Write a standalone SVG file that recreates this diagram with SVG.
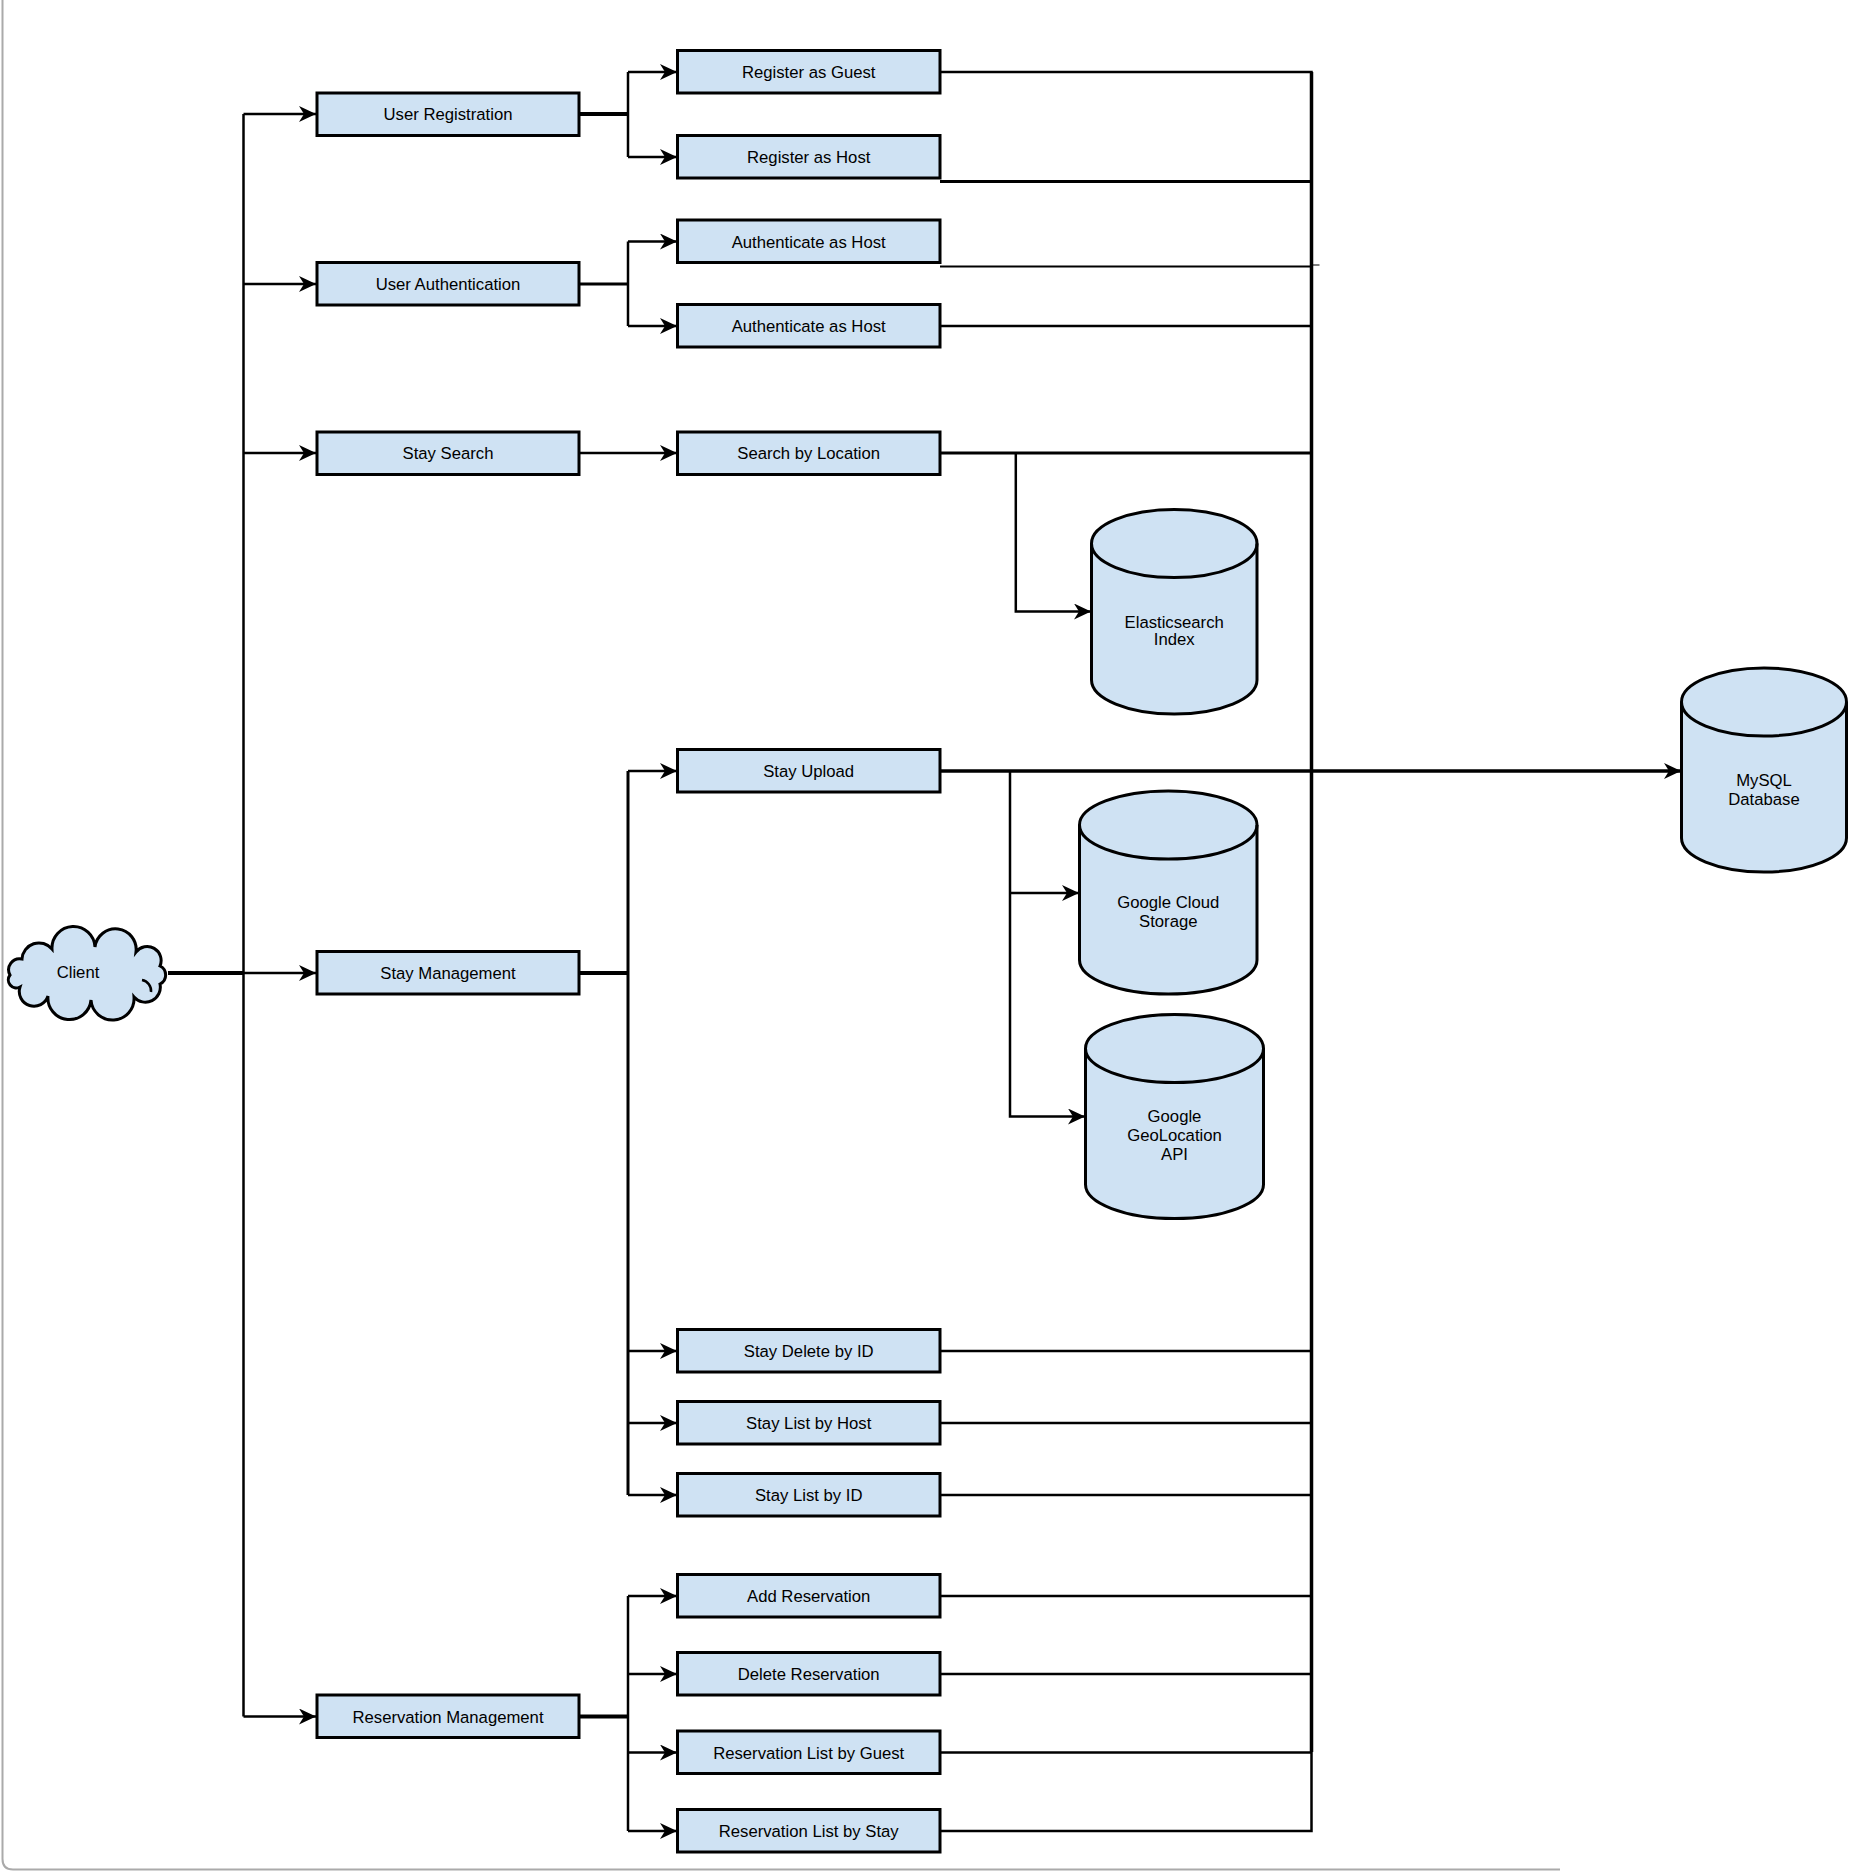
<svg xmlns="http://www.w3.org/2000/svg" width="1868" height="1872" viewBox="0 0 1868 1872">
<defs>
<marker id="arr" markerUnits="userSpaceOnUse" markerWidth="20" markerHeight="18" refX="17" refY="8" orient="auto">
<path d="M0,0 L17,8 L0,16 L5,8 Z" fill="#000"/>
</marker>
<style>
.box{fill:#cfe2f3;stroke:#000;stroke-width:3}
.cyl{fill:#cfe2f3;stroke:#000;stroke-width:3}
.cyltop{fill:none;stroke:#000;stroke-width:3}
.lbl{font-family:"Liberation Sans",Arial,sans-serif;font-size:16.7px;fill:#000;text-anchor:middle}
.ln{fill:none;stroke:#000;stroke-width:2.5}
.thk{fill:none;stroke:#000;stroke-width:4}
.thin{fill:none;stroke:#000;stroke-width:2}
.ar{fill:none;stroke:#000;stroke-width:2.5;marker-end:url(#arr)}
</style>
</defs>
<rect width="1868" height="1872" fill="#fff"/>
<path d="M2.5,0 V1859 Q2.5,1869.5 13,1869.5 H1560" fill="none" stroke="#aaaaaa" stroke-width="2"/>

<g id="connectors">
<path class="thk" d="M168,973 H243.5"/>
<path class="ln" d="M243.5,114 V1716.5"/>
<path class="ar" d="M243.5,114 H316"/>
<path class="ar" d="M243.5,284 H316"/>
<path class="ar" d="M243.5,453 H316"/>
<path class="ar" d="M243.5,973 H316"/>
<path class="ar" d="M243.5,1716.5 H316"/>
<path class="thk" d="M579,114 H628"/>
<path class="ln" d="M628,72 V157"/>
<path class="ar" d="M628,72 H677"/>
<path class="ar" d="M628,157 H677"/>
<path class="ln" style="stroke-width:3" d="M579,284 H628"/>
<path class="ln" d="M628,241.5 V326"/>
<path class="ar" d="M628,241.5 H677"/>
<path class="ar" d="M628,326 H677"/>
<path class="ar" d="M579,453 H677"/>
<path class="thk" d="M579,973 H628"/>
<path class="ln" style="stroke-width:3" d="M628,771 V1495"/>
<path class="ar" d="M628,771 H677"/>
<path class="ar" d="M628,1351 H677"/>
<path class="ar" d="M628,1423 H677"/>
<path class="ar" d="M628,1495 H677"/>
<path class="thk" d="M579,1716.5 H628"/>
<path class="ln" d="M628,1596 V1831"/>
<path class="ar" d="M628,1596 H677"/>
<path class="ar" d="M628,1674 H677"/>
<path class="ar" d="M628,1752.5 H677"/>
<path class="ar" d="M628,1831 H677"/>
<path class="ln" d="M940,72 H1311.5 V1831 H940"/>
<path class="ln" style="stroke-width:3.5" d="M1311.5,72 V1752"/>
<path class="ln" style="stroke-width:3" d="M940,181.5 H1311.5"/>
<path class="thin" d="M940,266.5 H1311.5"/>
<path d="M1311.5,265 H1319.5" stroke="#000" stroke-width="1" fill="none"/>
<path class="ln" d="M940,326 H1311.5"/>
<path class="ln" style="stroke-width:3" d="M940,453 H1311.5"/>
<path class="ln" d="M940,1351 H1311.5"/>
<path class="ln" d="M940,1423 H1311.5"/>
<path class="ln" d="M940,1495 H1311.5"/>
<path class="ln" d="M940,1596 H1311.5"/>
<path class="ln" d="M940,1674 H1311.5"/>
<path class="ln" d="M940,1752.5 H1311.5"/>
<path class="ar" d="M1015.8,453 V611.5 H1091"/>
<path class="ln" style="stroke-width:3.5;marker-end:url(#arr)" d="M940,771 H1681"/>
<path class="ar" d="M1010,771 V1116.5 H1085"/>
<path class="ar" d="M1010,893 H1079"/>
</g>

<g id="client">
<path d="M10,975 A11,11 0 0 1 22,959 A17,17 0 0 1 52,949 A20,20 0 0 1 95,947 A19,19 0 0 1 136,952 A14,14 0 0 1 160,966 A10,10 0 0 1 160,984 A15,15 0 0 1 134,997 A20,20 0 0 1 91,1000 A20,20 0 0 1 48,996 A14,14 0 0 1 20,987 A8,8 0 0 1 10,975 Z" fill="#cfe2f3" stroke="#000" stroke-width="3"/>
<path d="M142,980 A11,11 0 0 1 151,992" fill="none" stroke="#000" stroke-width="2.5"/>
<text class="lbl" x="78" y="978">Client</text>
</g>

<g id="user-registration"><rect class="box" x="317" y="93" width="262" height="42.5"/><text class="lbl" x="448" y="120">User Registration</text></g>
<g id="user-authentication"><rect class="box" x="317" y="262.5" width="262" height="42.5"/><text class="lbl" x="448" y="290">User Authentication</text></g>
<g id="stay-search"><rect class="box" x="317" y="432" width="262" height="42.5"/><text class="lbl" x="448" y="459">Stay Search</text></g>
<g id="stay-management"><rect class="box" x="317" y="951.5" width="262" height="42.5"/><text class="lbl" x="448" y="979">Stay Management</text></g>
<g id="reservation-management"><rect class="box" x="317" y="1695" width="262" height="42.5"/><text class="lbl" x="448" y="1722.5">Reservation Management</text></g>

<g id="register-guest"><rect class="box" x="677.5" y="50.5" width="262.5" height="42.5"/><text class="lbl" x="808.7" y="78">Register as Guest</text></g>
<g id="register-host"><rect class="box" x="677.5" y="135.5" width="262.5" height="42.5"/><text class="lbl" x="808.7" y="163">Register as Host</text></g>
<g id="auth-host-1"><rect class="box" x="677.5" y="220" width="262.5" height="42.5"/><text class="lbl" x="808.7" y="247.5">Authenticate as Host</text></g>
<g id="auth-host-2"><rect class="box" x="677.5" y="304.5" width="262.5" height="42.5"/><text class="lbl" x="808.7" y="332">Authenticate as Host</text></g>
<g id="search-location"><rect class="box" x="677.5" y="432" width="262.5" height="42.5"/><text class="lbl" x="808.7" y="459">Search by Location</text></g>
<g id="stay-upload"><rect class="box" x="677.5" y="749.5" width="262.5" height="42.5"/><text class="lbl" x="808.7" y="777">Stay Upload</text></g>
<g id="stay-delete"><rect class="box" x="677.5" y="1329.5" width="262.5" height="42.5"/><text class="lbl" x="808.7" y="1357">Stay Delete by ID</text></g>
<g id="stay-list-host"><rect class="box" x="677.5" y="1401.5" width="262.5" height="42.5"/><text class="lbl" x="808.7" y="1429">Stay List by Host</text></g>
<g id="stay-list-id"><rect class="box" x="677.5" y="1473.5" width="262.5" height="42.5"/><text class="lbl" x="808.7" y="1501">Stay List by ID</text></g>
<g id="add-reservation"><rect class="box" x="677.5" y="1574.5" width="262.5" height="42.5"/><text class="lbl" x="808.7" y="1602">Add Reservation</text></g>
<g id="delete-reservation"><rect class="box" x="677.5" y="1652.5" width="262.5" height="42.5"/><text class="lbl" x="808.7" y="1680">Delete Reservation</text></g>
<g id="res-list-guest"><rect class="box" x="677.5" y="1731" width="262.5" height="42.5"/><text class="lbl" x="808.7" y="1758.5">Reservation List by Guest</text></g>
<g id="res-list-stay"><rect class="box" x="677.5" y="1809.5" width="262.5" height="42.5"/><text class="lbl" x="808.7" y="1837">Reservation List by Stay</text></g>

<g id="elasticsearch">
<path class="cyl" d="M1091.5,543.5 A82.75,34 0 0 1 1257,543.5 V680 A82.75,34 0 0 1 1091.5,680 Z"/>
<path class="cyltop" d="M1091.5,543.5 A82.75,34 0 0 0 1257,543.5"/>
<text class="lbl" x="1174.2" y="627.5">Elasticsearch</text>
<text class="lbl" x="1174.2" y="645">Index</text>
</g>
<g id="google-cloud-storage">
<path class="cyl" d="M1079.5,825 A88.75,34 0 0 1 1257,825 V960 A88.75,34 0 0 1 1079.5,960 Z"/>
<path class="cyltop" d="M1079.5,825 A88.75,34 0 0 0 1257,825"/>
<text class="lbl" x="1168.3" y="908">Google Cloud</text>
<text class="lbl" x="1168.3" y="927">Storage</text>
</g>
<g id="google-geolocation">
<path class="cyl" d="M1085.5,1048.5 A89,34 0 0 1 1263.5,1048.5 V1184.5 A89,34 0 0 1 1085.5,1184.5 Z"/>
<path class="cyltop" d="M1085.5,1048.5 A89,34 0 0 0 1263.5,1048.5"/>
<text class="lbl" x="1174.5" y="1122">Google</text>
<text class="lbl" x="1174.5" y="1141">GeoLocation</text>
<text class="lbl" x="1174.5" y="1160">API</text>
</g>
<g id="mysql">
<path class="cyl" d="M1681.5,702 A82.5,34 0 0 1 1846.5,702 V838 A82.5,34 0 0 1 1681.5,838 Z"/>
<path class="cyltop" d="M1681.5,702 A82.5,34 0 0 0 1846.5,702"/>
<text class="lbl" x="1764" y="786">MySQL</text>
<text class="lbl" x="1764" y="805">Database</text>
</g>
</svg>
